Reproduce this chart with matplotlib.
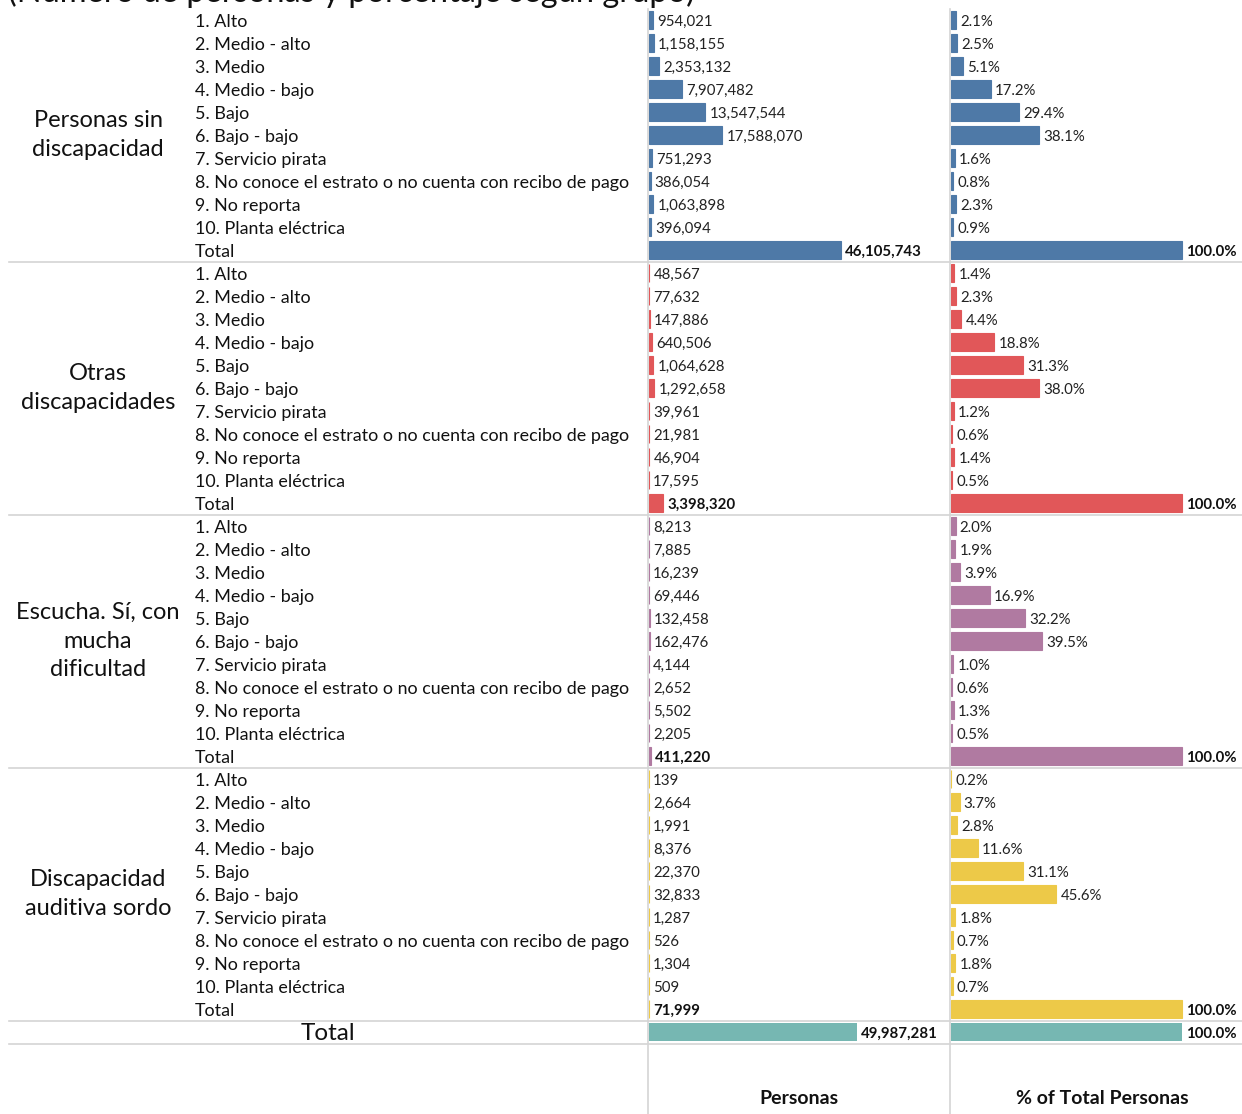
import matplotlib
matplotlib.use("Agg")
import matplotlib.pyplot as plt
from matplotlib.lines import Line2D

plt.rcParams['font.family'] = ['Lato', 'DejaVu Sans']

W, H = 1242, 1114

categories = ["1. Alto", "2. Medio - alto", "3. Medio", "4. Medio - bajo", "5. Bajo",
              "6. Bajo - bajo", "7. Servicio pirata",
              "8. No conoce el estrato o no cuenta con recibo de pago",
              "9. No reporta", "10. Planta eléctrica"]

groups = ["Personas sin\ndiscapacidad", "Otras\ndiscapacidades",
          "Escucha. Sí, con\nmucha\ndificultad", "Discapacidad\nauditiva sordo"]

personas_sin = [954021, 1158155, 2353132, 7907482, 13547544, 17588070, 751293, 386054, 1063898, 396094]
personas_otras = [48567, 77632, 147886, 640506, 1064628, 1292658, 39961, 21981, 46904, 17595]
personas_escucha = [8213, 7885, 16239, 69446, 132458, 162476, 4144, 2652, 5502, 2205]
personas_sordo = [139, 2664, 1991, 8376, 22370, 32833, 1287, 526, 1304, 509]
totales = [46105743, 3398320, 411220, 71999]
gran_total = 49987281

pct_sin = [2.1, 2.5, 5.1, 17.2, 29.4, 38.1, 1.6, 0.8, 2.3, 0.9]
pct_otras = [1.4, 2.3, 4.4, 18.8, 31.3, 38.0, 1.2, 0.6, 1.4, 0.5]
pct_escucha = [2.0, 1.9, 3.9, 16.9, 32.2, 39.5, 1.0, 0.6, 1.3, 0.5]
pct_sordo = [0.2, 3.7, 2.8, 11.6, 31.1, 45.6, 1.8, 0.7, 1.8, 0.7]
pct_totales = [100.0, 100.0, 100.0, 100.0]
pct_gran_total = 100.0

colors = ["#4e79a7", "#e15759", "#b07aa1", "#edc948"]
total_color = "#76b7b2"

personas_groups = [personas_sin, personas_otras, personas_escucha, personas_sordo]
pct_groups = [pct_sin, pct_otras, pct_escucha, pct_sordo]

fig = plt.figure(figsize=(W / 100, H / 100), dpi=100)

def fx(px):
    return px / W

def fy(py):
    return 1 - py / H

top_px, bot_px = 8.5, 1043.5
nrows = 45

ax_p = fig.add_axes([fx(649), fy(bot_px), fx(301), (bot_px - top_px) / H])
ax_q = fig.add_axes([fx(951), fy(bot_px), fx(291), (bot_px - top_px) / H])
ax_l = fig.add_axes([fx(0), fy(bot_px), fx(648), (bot_px - top_px) / H])

xmax_p = 301 / 208 * gran_total
ax_p.set_xlim(0, xmax_p)
ax_q.set_xlim(0, 291 / 231 * 100)
ax_l.set_xlim(0, 648)
for a in (ax_p, ax_q, ax_l):
    a.set_ylim(nrows - 0.5, -0.5)
    a.axis("off")

VAL_FS = 10.8
CAT_FS = 12.9
GRP_FS = 17
DY = -1.2  # small downward nudge (points) for row labels
bar_h = 0.78


def cat_label(y, s):
    ax_l.annotate(s, (195, y), xytext=(0, DY), textcoords="offset points",
                  va="center", ha="left", fontsize=CAT_FS, color="#111111")


def val_label(ax, x, y, s, bold=False):
    ax.annotate(s, (x, y), xytext=(3, DY), textcoords="offset points",
                va="center", ha="left", fontsize=VAL_FS,
                fontweight="bold" if bold else "normal",
                color="#111111" if bold else "#222222")


row = 0
for g in range(4):
    c = colors[g]
    start = row
    for i, cat in enumerate(categories):
        v = personas_groups[g][i]
        p = pct_groups[g][i]
        ax_p.barh(row, v, height=bar_h, color=c, edgecolor=c, linewidth=0.8)
        ax_q.barh(row, p, height=bar_h, color=c, edgecolor=c, linewidth=0.8)
        val_label(ax_p, v, row, f"{v:,}")
        val_label(ax_q, p, row, f"{p:.1f}%")
        cat_label(row, cat)
        row += 1
    v = totales[g]
    p = pct_totales[g]
    ax_p.barh(row, v, height=bar_h, color=c, edgecolor=c, linewidth=0.8)
    ax_q.barh(row, p, height=bar_h, color=c, edgecolor=c, linewidth=0.8)
    val_label(ax_p, v, row, f"{v:,}", bold=True)
    val_label(ax_q, p, row, f"{p:.1f}%", bold=True)
    cat_label(row, "Total")
    ax_l.text(98, (start + row) / 2, groups[g], va="center", ha="center",
              fontsize=GRP_FS, linespacing=1.45, color="#111111")
    row += 1

ax_p.barh(row, gran_total, height=bar_h, color=total_color)
ax_q.barh(row, pct_gran_total, height=bar_h, color=total_color)
val_label(ax_p, gran_total, row, f"{gran_total:,}", bold=True)
val_label(ax_q, pct_gran_total, row, f"{pct_gran_total:.1f}%", bold=True)
ax_l.annotate("Total", (328, row), xytext=(0, DY), textcoords="offset points",
              va="center", ha="center", fontsize=17.5, color="#111111")

# grid lines
line_c = "#d4d4d4"
for ypx in [262, 515, 768, 1021, 1044]:
    fig.add_artist(Line2D([fx(9), fx(1242)], [fy(ypx), fy(ypx)], color=line_c, lw=1.2))
for xpx in [648, 950]:
    fig.add_artist(Line2D([fx(xpx), fx(xpx)], [fy(9), fy(1114)], color=line_c, lw=1.2))

# column headers
fig.text(fx(799), fy(1098), "Personas", ha="center", va="center", fontsize=14,
         fontweight="bold", color="#111111")
fig.text(fx(1102), fy(1098), "% of Total Personas", ha="center", va="center", fontsize=14,
         fontweight="bold", color="#111111")

# partially visible title at top (cut by the top edge, as in the reference)
fig.text(fx(8), fy(2), "(Número de personas y porcentaje según grupo)", ha="left",
         va="baseline", fontsize=23.5, color="#111111")

fig.savefig("out.png", dpi=100, facecolor="white")
